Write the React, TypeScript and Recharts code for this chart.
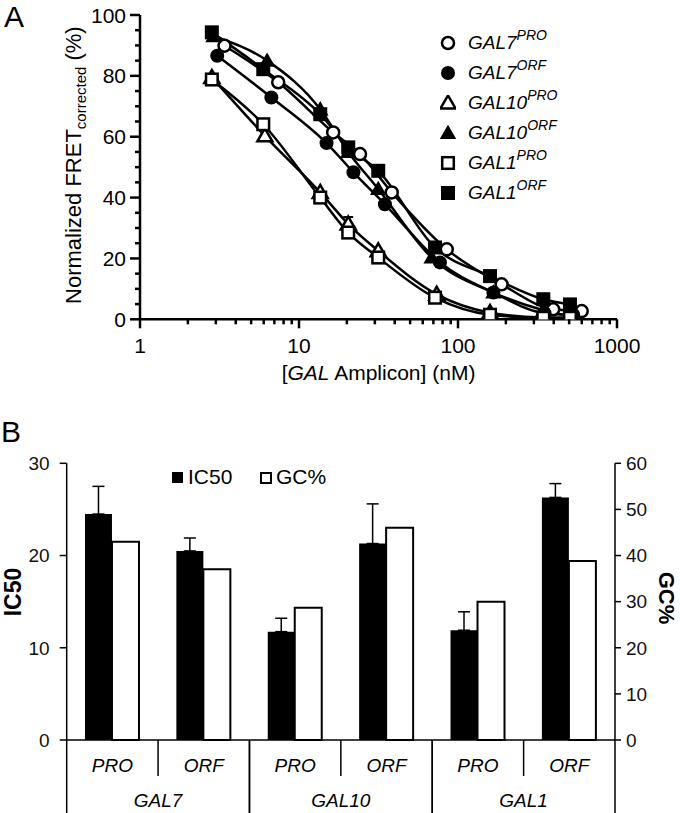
import React from 'react'
import {
  Bar,
  ComposedChart,
  ErrorBar,
  Label,
  Legend,
  Line,
  Scatter,
  XAxis,
  YAxis,
} from 'recharts'

const FONT = '"Liberation Sans", Arial, Helvetica, sans-serif'

// ---- Panel A: FRET titration, x = amplicon (nM), y = normalized FRET (%)
const gal7ProX = [3.4, 7.4, 16.4, 24.2, 38.3, 85, 188, 397, 600]
const gal7ProY = [89.9, 77.9, 61.4, 54.3, 41.7, 23.0, 11.5, 3.3, 2.7]
const gal7OrfX = [3.06, 6.7, 14.9, 22.0, 34.7, 77, 167, 350, 530]
const gal7OrfY = [86.6, 72.9, 57.9, 48.3, 37.8, 18.7, 8.8, 2.0, 1.5]
const gal10ProX = [2.83, 6.1, 13.6, 20.4, 31.5, 73.5, 159, 344, 506]
const gal10ProY = [79.5, 60.3, 41.7, 31.3, 22.5, 8.2, 2.2, 0.6, 0.5]
const gal10OrfX = [2.9, 6.3, 13.6, 20.4, 31.5, 68.3, 167, 344, 506]
const gal10OrfY = [93.0, 85.0, 69.0, 55.0, 42.8, 20.3, 8.8, 3.0, 1.0]
const gal1ProX = [2.83, 5.96, 13.6, 20.4, 31.5, 71.7, 159, 344, 506]
const gal1ProY = [78.8, 64.1, 40.0, 28.5, 20.3, 7.1, 1.5, 0.5, 0.5]
const gal1OrfX = [2.83, 5.96, 13.6, 20.4, 31.5, 71.7, 159, 344, 506]
const gal1OrfY = [94.3, 82.2, 67.4, 56.5, 48.8, 23.6, 14.2, 6.6, 4.9]

// the one visible error bar (GAL10 PRO, ~20 nM)
const gal10ProErrX = [20.4]
const gal10ProErrY = [31.3]
const gal10ProErr = [2.3]

const xTicksA = [1, 2, 3, 4, 5, 6, 7, 8, 9, 10, 20, 30, 40, 50, 60, 70, 80, 90, 100, 200, 300, 400, 500, 600, 700, 800, 900, 1000]
const xMajorA = [1, 10, 100, 1000]
const yTicksA = [0, 5, 10, 15, 20, 25, 30, 35, 40, 45, 50, 55, 60, 65, 70, 75, 80, 85, 90, 95, 100]
const yMajorA = [0, 20, 40, 60, 80, 100]

// ---- Panel B: IC50 vs GC%
const genes = ['GAL7', 'GAL7', 'GAL10', 'GAL10', 'GAL1', 'GAL1']
const parts = ['PRO', 'ORF', 'PRO', 'ORF', 'PRO', 'ORF']
const ic50 = [24.5, 20.5, 11.75, 21.3, 11.9, 26.3]
const ic50Err = [3.0, 1.4, 1.45, 4.3, 2.0, 1.5]
const gcPct = [43.0, 37.0, 28.7, 46.0, 30.0, 38.8]
const ic50Ticks = [0, 10, 20, 30]
const gcTicks = [0, 10, 20, 30, 40, 50, 60]

type Kind = 'circle' | 'triangle' | 'square'

const toPoints = (xs: number[], ys: number[]) => xs.map((x, i) => ({ x, y: ys[i] }))

const seriesA: { name: string; sup: string; kind: Kind; filled: boolean; data: { x: number; y: number }[] }[] = [
  { name: 'GAL7', sup: 'PRO', kind: 'circle', filled: false, data: toPoints(gal7ProX, gal7ProY) },
  { name: 'GAL7', sup: 'ORF', kind: 'circle', filled: true, data: toPoints(gal7OrfX, gal7OrfY) },
  { name: 'GAL10', sup: 'PRO', kind: 'triangle', filled: false, data: toPoints(gal10ProX, gal10ProY) },
  { name: 'GAL10', sup: 'ORF', kind: 'triangle', filled: true, data: toPoints(gal10OrfX, gal10OrfY) },
  { name: 'GAL1', sup: 'PRO', kind: 'square', filled: false, data: toPoints(gal1ProX, gal1ProY) },
  { name: 'GAL1', sup: 'ORF', kind: 'square', filled: true, data: toPoints(gal1OrfX, gal1OrfY) },
]

const errData = gal10ProErrX.map((x, i) => ({ x, y: gal10ProErrY[i], err: [0, gal10ProErr[i]] }))

const barData = genes.map((g, i) => ({
  id: `${g}-${parts[i]}`,
  ic50: ic50[i],
  ic50Err: [0, ic50Err[i]],
  gc: gcPct[i],
}))

function Marker({ cx, cy, kind, filled }: { cx: number; cy: number; kind: Kind; filled: boolean }) {
  const fill = filled ? '#000' : '#fff'
  const sw = filled ? 0 : 2.5
  if (kind === 'circle') {
    return <circle cx={cx} cy={cy} r={filled ? 7 : 6} fill={fill} stroke="#000" strokeWidth={sw} />
  }
  if (kind === 'square') {
    const h = filled ? 7 : 5.8
    return <rect x={cx - h} y={cy - h} width={2 * h} height={2 * h} fill={fill} stroke="#000" strokeWidth={sw} />
  }
  const s = filled ? 1.1 : 1
  return (
    <polygon
      points={`${cx},${cy - 7.5 * s} ${cx + 7.5 * s},${cy + 5.5 * s} ${cx - 7.5 * s},${cy + 5.5 * s}`}
      fill={fill}
      stroke="#000"
      strokeWidth={sw}
      strokeLinejoin="miter"
    />
  )
}

function LogXTick(props: any) {
  const { x, y, payload } = props
  const major = xMajorA.includes(payload.value)
  return (
    <g>
      <line x1={x} x2={x} y1={y} y2={y + (major ? 9 : 5)} stroke="#000" strokeWidth={2.5} />
      {major && (
        <text x={x} y={y + 34} textAnchor="middle" fontSize={21} fontFamily={FONT} fill="#000">
          {payload.value}
        </text>
      )}
    </g>
  )
}

function PercentYTick(props: any) {
  const { x, y, payload } = props
  const major = yMajorA.includes(payload.value)
  return (
    <g>
      <line x1={x - (major ? 10 : 5)} x2={x} y1={y} y2={y} stroke="#000" strokeWidth={2.5} />
      {major && (
        <text x={x - 14} y={y} dy="0.36em" textAnchor="end" fontSize={21} fontFamily={FONT} fill="#000">
          {payload.value}
        </text>
      )}
    </g>
  )
}

const PLOT_B_LEFT = 66.7
const PLOT_B_RIGHT_W = 65
const BAND_W = (680 - PLOT_B_LEFT - PLOT_B_RIGHT_W) / genes.length

function CategoryTick(props: any) {
  const { x, y, index } = props
  const half = BAND_W / 2
  const isPro = index % 2 === 0
  return (
    <g>
      <text x={x} y={y + 32} textAnchor="middle" fontSize={19} fontStyle="italic" fontFamily={FONT} fill="#000">
        {parts[index]}
      </text>
      {isPro ? (
        <line x1={x - half} x2={x - half} y1={y} y2={y + 73} stroke="#000" strokeWidth={1.5} />
      ) : (
        <>
          <line x1={x - half} x2={x - half} y1={y} y2={y + 36} stroke="#000" strokeWidth={1.5} />
          <line x1={x + half} x2={x + half} y1={y} y2={y + 73} stroke="#000" strokeWidth={1.5} />
          <text x={x - half} y={y + 67} textAnchor="middle" fontSize={19} fontStyle="italic" fontFamily={FONT} fill="#000">
            {genes[index]}
          </text>
        </>
      )}
    </g>
  )
}

function LegendA() {
  return (
    <div style={{ fontFamily: FONT }}>
      {seriesA.map((s) => (
        <div key={s.name + s.sup} style={{ height: 30, display: 'flex', alignItems: 'center' }}>
          <svg width={16} height={16} style={{ display: 'block' }}>
            <Marker cx={8} cy={8} kind={s.kind} filled={s.filled} />
          </svg>
          <span style={{ marginLeft: 12, fontSize: 19, fontStyle: 'italic', lineHeight: '19px' }}>
            {s.name}
            <span style={{ fontSize: 14, position: 'relative', top: -9 }}>{s.sup}</span>
          </span>
        </div>
      ))}
    </div>
  )
}

function LegendB() {
  return (
    <div style={{ position: 'relative', width: 680, height: 30, fontFamily: FONT, fontSize: 21, lineHeight: '21px' }}>
      <div style={{ position: 'absolute', left: 172, top: 7, width: 11, height: 11, background: '#000' }} />
      <span style={{ position: 'absolute', left: 188, top: 1 }}>IC50</span>
      <div style={{ position: 'absolute', left: 260, top: 7, width: 8, height: 8, background: '#fff', border: '2px solid #000' }} />
      <span style={{ position: 'absolute', left: 276, top: 1 }}>GC%</span>
    </div>
  )
}

function FretPanel() {
  return (
    <ComposedChart width={680} height={400} margin={{ top: 15, right: 63, bottom: 0, left: 0 }}>
      <XAxis
        dataKey="x"
        type="number"
        scale="log"
        domain={[1, 1000]}
        allowDataOverflow
        ticks={xTicksA}
        interval={0}
        tickSize={0}
        tickMargin={0}
        tickLine={false}
        tick={<LogXTick />}
        height={80.7}
        axisLine={{ stroke: '#000', strokeWidth: 2.5 }}
      >
        <Label
          content={(p: any) => {
            const vb = p.viewBox
            return (
              <text x={vb.x + vb.width / 2} y={vb.y + 61} textAnchor="middle" fontSize={21} fontFamily={FONT} fill="#000">
                [<tspan fontStyle="italic">GAL</tspan> Amplicon] (nM)
              </text>
            )
          }}
        />
      </XAxis>
      <YAxis
        dataKey="y"
        type="number"
        domain={[0, 100]}
        allowDataOverflow
        ticks={yTicksA}
        interval={0}
        width={140}
        tickSize={0}
        tickMargin={0}
        tickLine={false}
        tick={<PercentYTick />}
        axisLine={{ stroke: '#000', strokeWidth: 2.5 }}
      >
        <Label
          content={(p: any) => {
            const vb = p.viewBox
            const cx = 81
            const cy = vb.y + vb.height / 2 - 2
            return (
              <text transform={`rotate(-90, ${cx}, ${cy})`} x={cx} y={cy} textAnchor="middle" fontSize={22} fontFamily={FONT} fill="#000">
                Normalized FRET<tspan fontSize={15} dy={5}>corrected</tspan>
                <tspan dy={-5}> (%)</tspan>
              </text>
            )
          }}
        />
      </YAxis>
      <Legend
        layout="horizontal"
        verticalAlign="middle"
        align="center"
        wrapperStyle={{ left: 440, top: 28, width: 160, height: 180 }}
        content={() => <LegendA />}
      />
      {seriesA.map((s) => (
        <Line
          key={'line-' + s.name + s.sup}
          data={s.data}
          dataKey="y"
          type="monotone"
          stroke="#000"
          strokeWidth={2.5}
          dot={false}
          activeDot={false}
          legendType="none"
          isAnimationActive={false}
        />
      ))}
      <Scatter data={errData} dataKey="y" shape={() => <g />} legendType="none" isAnimationActive={false}>
        <ErrorBar dataKey="err" direction="y" width={5} stroke="#000" strokeWidth={2} />
      </Scatter>
      {seriesA.map((s) => (
        <Scatter
          key={'pts-' + s.name + s.sup}
          data={s.data}
          dataKey="y"
          legendType="none"
          isAnimationActive={false}
          shape={(p: any) => <Marker cx={p.cx} cy={p.cy} kind={s.kind} filled={s.filled} />}
        />
      ))}
    </ComposedChart>
  )
}

function Ic50Panel() {
  return (
    <ComposedChart
      width={680}
      height={393}
      data={barData}
      margin={{ top: 43.3, right: 0, bottom: 0, left: 0 }}
      barCategoryGap="20%"
      barGap={0}
    >
      <XAxis
        dataKey="id"
        height={73}
        interval={0}
        tickSize={0}
        tickMargin={0}
        tickLine={false}
        tick={<CategoryTick />}
        axisLine={{ stroke: '#000', strokeWidth: 1.5 }}
      />
      <YAxis
        yAxisId="left"
        domain={[0, 30]}
        ticks={ic50Ticks}
        interval={0}
        width={PLOT_B_LEFT}
        tickSize={7}
        tickMargin={10}
        tick={{ fontSize: 19, fill: '#111', fontFamily: FONT }}
        tickLine={{ stroke: '#000', strokeWidth: 1.5 }}
        axisLine={{ stroke: '#000', strokeWidth: 1.5 }}
      >
        <Label
          content={() => (
            <text transform="rotate(-90, 21, 172)" x={21} y={172} textAnchor="middle" fontSize={23} fontWeight="bold" fontFamily={FONT} fill="#000">
              IC50
            </text>
          )}
        />
      </YAxis>
      <YAxis
        yAxisId="right"
        orientation="right"
        domain={[0, 60]}
        ticks={gcTicks}
        interval={0}
        width={PLOT_B_RIGHT_W}
        tickSize={6}
        tickMargin={5}
        tick={{ fontSize: 19, fill: '#111', fontFamily: FONT }}
        tickLine={{ stroke: '#000', strokeWidth: 1.5 }}
        axisLine={{ stroke: '#000', strokeWidth: 1.5 }}
      >
        <Label
          content={() => (
            <text transform="rotate(90, 659, 178)" x={659} y={178} textAnchor="middle" fontSize={22} fontWeight="bold" fontFamily={FONT} fill="#000">
              GC%
            </text>
          )}
        />
      </YAxis>
      <Legend
        layout="horizontal"
        verticalAlign="middle"
        align="center"
        wrapperStyle={{ left: 0, top: 45, width: 680, height: 30 }}
        content={() => <LegendB />}
      />
      <Bar yAxisId="left" dataKey="ic50" fill="#000" isAnimationActive={false}>
        <ErrorBar dataKey="ic50Err" direction="y" width={6} stroke="#000" strokeWidth={1.5} />
      </Bar>
      <Bar yAxisId="right" dataKey="gc" fill="#fff" stroke="#000" strokeWidth={2} isAnimationActive={false} />
    </ComposedChart>
  )
}

export default function App() {
  return (
    <div style={{ position: 'absolute', left: 0, top: 0, width: 680, height: 813, background: '#fff', fontFamily: FONT, overflow: 'hidden' }}>
      <div style={{ position: 'absolute', left: 0, top: 0 }}>
        <FretPanel />
      </div>
      <div style={{ position: 'absolute', left: 0, top: 420 }}>
        <Ic50Panel />
      </div>
      <div style={{ position: 'absolute', left: 4, top: 0, fontSize: 30, lineHeight: '34px' }}>A</div>
      <div style={{ position: 'absolute', left: 1, top: 414, fontSize: 30, lineHeight: '36px' }}>B</div>
    </div>
  )
}
